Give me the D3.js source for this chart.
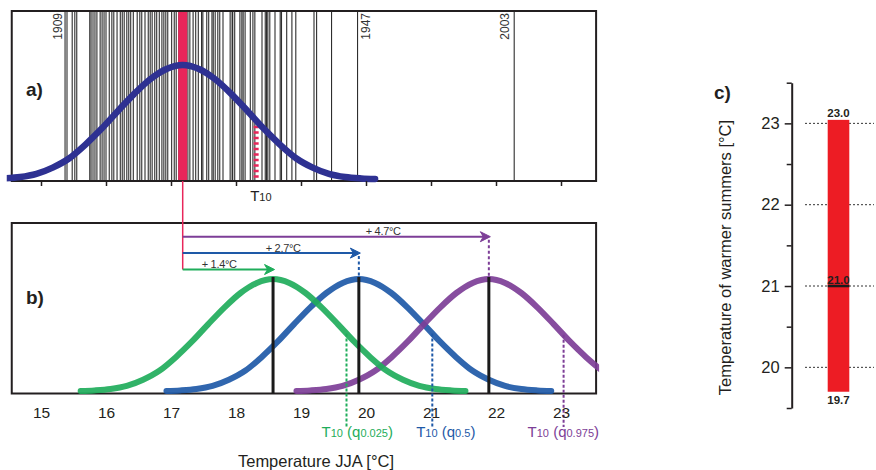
<!DOCTYPE html>
<html><head><meta charset="utf-8">
<script src="https://cdn.jsdelivr.net/npm/d3@7"></script>
<style>
body{margin:0;background:#fff;}
svg{display:block;font-family:"Liberation Sans",Arial,sans-serif;}
</style></head><body>
<svg id="chart" width="876" height="470"></svg>
<script>
// ---------------- data ----------------
const xTicks = [15, 16, 17, 18, 19, 20, 21, 22, 23];
// observed summer (JJA) temperatures, one vertical line each [°C]
const summerTemps = [15.37, 15.40, 15.48, 15.52, 15.55, 15.75, 15.77, 15.80, 15.83, 15.86,
  15.91, 15.94, 15.97, 16.00, 16.05, 16.09, 16.12, 16.17, 16.22, 16.25, 16.28, 16.32, 16.35,
  16.38, 16.42, 16.48, 16.52, 16.55, 16.60, 16.65, 16.68, 16.71, 16.75, 16.78, 16.82, 16.86,
  16.89, 16.92, 16.95, 17.01, 17.05, 17.08, 17.12, 17.18, 17.26, 17.29, 17.34, 17.38, 17.42,
  17.47, 17.49, 17.55, 17.58, 17.63, 17.65, 17.68, 17.72, 17.75, 17.80, 17.91, 17.94, 17.95,
  17.98, 18.06, 18.09, 18.11, 18.14, 18.22, 18.26, 18.29, 18.40, 18.45, 18.47, 18.49, 18.52,
  18.60, 18.68, 18.70, 18.78, 18.86, 18.92, 19.20, 19.24, 19.47, 19.87, 22.28];
const labelledYears = ["1909", "1947", "2003"];
const labelledTemps = [15.37, 19.87, 22.28];
// shape of the density curves: offset from the mean [°C] and relative height
const densityOffsets = [0, 0.25, 0.5, 0.75, 1.0, 1.25, 1.5, 1.75, 2.0, 2.25, 2.5, 2.75, 2.96];
const densityHeights = [1.0, 0.965, 0.875, 0.745, 0.595, 0.44, 0.30, 0.18, 0.10, 0.045, 0.017, 0.005, 0];
const baseMean = 17.18;
const baseT10 = 18.31;
const scenarioNames = ["0.025", "0.5", "0.975"];
const scenarioMeans = [18.57, 19.89, 21.89];
const scenarioShiftLabels = ["+ 1.4°C", "+ 2.7°C", "+ 4.7°C"];
const scenarioT10 = [19.70, 21.02, 23.04];
const warmTicks = [19.5, 20, 20.5, 21, 21.5, 22, 22.5, 23, 23.5];
const warmGrid = [20, 21, 22, 23];
const warmLow = 19.7, warmMid = 21.0, warmHigh = 23.0;

// ---------------- styles / layout ----------------
const C = {navy:"#2e3192", pink:"#e8265a", red:"#ed1c24", dark:"#231f20",
  scen:["#1fad5b", "#1e59a7", "#7d3e97"]};
const svg = d3.select("#chart");
const x = d3.scaleLinear().domain([15, 23]).range([41, 561]);
const xLo = 14.55, xHi = 23.54;
const A = {top:11, bottom:181}, B = {top:223, bottom:393.5};
const yA = d3.scaleLinear().domain([0, 1]).range([179, 65]);
const yB = d3.scaleLinear().domain([0, 1]).range([391, 279]);
const prof = d3.scaleLinear().domain(densityOffsets).range(densityHeights).clamp(true);
const profilePts = densityOffsets.slice(1).reverse().map((o, i) => [-o, densityHeights[densityHeights.length-1-i]])
  .concat(densityOffsets.map((o, i) => [o, densityHeights[i]]));
const densLine = (mean, ys) => d3.line().x(d => x(mean + d[0])).y(d => ys(d[1])).curve(d3.curveMonotoneX)(profilePts);

svg.append("defs").append("clipPath").attr("id", "clipX")
  .append("rect").attr("x", x(xLo) - 5).attr("y", 0).attr("width", x(xHi) - x(xLo) + 8).attr("height", 470);

// ---------------- panel a ----------------
const gA = svg.append("g");
gA.selectAll("line.yr").data(summerTemps).join("line").attr("class", "yr")
  .attr("x1", d => x(d)).attr("x2", d => x(d)).attr("y1", A.top).attr("y2", A.bottom)
  .attr("stroke", "#111").attr("stroke-width", 1.1).attr("stroke-opacity", 0.88);
gA.append("rect").attr("x", x(baseMean) - 4.5).attr("width", 9).attr("y", A.top).attr("height", A.bottom - A.top)
  .attr("fill", C.pink);
gA.append("line").attr("x1", x(baseT10)).attr("x2", x(baseT10))
  .attr("y1", yA(prof(baseT10 - baseMean))).attr("y2", A.bottom)
  .attr("stroke", C.pink).attr("stroke-width", 5).attr("stroke-dasharray", "2.5,3");
gA.append("rect").attr("x", x(xLo)).attr("y", A.top).attr("width", x(xHi) - x(xLo)).attr("height", A.bottom - A.top)
  .attr("fill", "none").attr("stroke", C.dark).attr("stroke-width", 2);
gA.append("path").attr("d", densLine(baseMean, yA)).attr("clip-path", "url(#clipX)")
  .attr("fill", "none").attr("stroke", C.navy).attr("stroke-width", 6.5).attr("stroke-linecap", "round");
const yearDx = [-3, 12, -5];
gA.selectAll("text.yl").data(labelledYears).join("text").attr("class", "yl")
  .attr("transform", (d, i) => `translate(${x(labelledTemps[i]) + yearDx[i]},13) rotate(-90)`)
  .attr("text-anchor", "end").attr("font-size", 12).attr("fill", "#333").text(d => d);
const axA = gA.append("g").attr("transform", `translate(0,${A.bottom})`)
  .call(d3.axisBottom(x).tickValues(xTicks).tickSize(5).tickFormat(""));
axA.select(".domain").remove();
axA.selectAll(".tick line").attr("stroke", C.dark).attr("stroke-width", 1.5);
const t10a = gA.append("text").attr("x", x(baseT10) - 6).attr("y", 200.5).attr("fill", C.dark);
t10a.append("tspan").attr("font-size", 15).text("T");
t10a.append("tspan").attr("font-size", 11).text("10");
gA.append("text").attr("x", 26).attr("y", 96).attr("font-size", 19).attr("font-weight", "bold").attr("fill", C.dark).text("a)");

// ---------------- panel b ----------------
const gB = svg.append("g");
const arrowY = scenarioMeans.map((d, i) => 269.5 - i * 16.4);
gB.append("rect").attr("x", x(xLo)).attr("y", B.top).attr("width", x(xHi) - x(xLo)).attr("height", B.bottom - B.top)
  .attr("fill", "none").attr("stroke", C.dark).attr("stroke-width", 2);
gB.append("line").attr("x1", x(baseMean)).attr("x2", x(baseMean)).attr("y1", A.bottom).attr("y2", arrowY[0])
  .attr("stroke", C.pink).attr("stroke-width", 1.5);
[1, 2, 0].forEach(i => {
  gB.append("path").attr("d", densLine(scenarioMeans[i], yB)).attr("clip-path", "url(#clipX)")
    .attr("fill", "none").attr("stroke", C.scen[i]).attr("stroke-width", 6).attr("stroke-opacity", 0.92)
    .attr("stroke-linecap", "round");
});
scenarioMeans.forEach((m, i) => {
  gB.append("line").attr("x1", x(m)).attr("x2", x(m)).attr("y1", yB(1) - 2).attr("y2", B.bottom)
    .attr("stroke", "#1a1a1a").attr("stroke-width", 3);
  if (yB(1) - arrowY[i] > 10) {
    gB.append("line").attr("x1", x(m)).attr("x2", x(m)).attr("y1", arrowY[i] + 3).attr("y2", yB(1) - 3)
      .attr("stroke", C.scen[i]).attr("stroke-width", 2).attr("stroke-dasharray", "3,2.5");
  }
  const t = scenarioT10[i];
  gB.append("line").attr("x1", x(t)).attr("x2", x(t)).attr("y1", yB(prof(t - m))).attr("y2", 427)
    .attr("stroke", C.scen[i]).attr("stroke-width", 2).attr("stroke-dasharray", "3,2");
  const tip = x(m) + 1.5, ay = arrowY[i];
  gB.append("line").attr("x1", x(baseMean)).attr("x2", tip - 5).attr("y1", ay).attr("y2", ay)
    .attr("stroke", C.scen[i]).attr("stroke-width", 2);
  gB.append("path").attr("d", `M${tip},${ay} L${tip - 10},${ay - 5} L${tip - 7},${ay} L${tip - 10},${ay + 5} Z`)
    .attr("fill", C.scen[i]).attr("stroke", C.scen[i]).attr("stroke-width", 1).attr("stroke-linejoin", "round");
});
const shiftLabelDx = [19, 83, 183];
gB.selectAll("text.sl").data(scenarioShiftLabels).join("text").attr("class", "sl")
  .attr("x", (d, i) => x(baseMean) + shiftLabelDx[i]).attr("y", (d, i) => arrowY[i] - 1.5)
  .attr("font-size", 11).attr("letter-spacing", -0.3).attr("fill", "#333").text(d => d);
gB.append("text").attr("x", 26).attr("y", 304).attr("font-size", 19).attr("font-weight", "bold").attr("fill", C.dark).text("b)");
const axB = gB.append("g").attr("transform", `translate(0,${B.bottom})`)
  .call(d3.axisBottom(x).tickValues(xTicks).tickSize(0).tickPadding(13).tickFormat(d3.format("d")));
axB.select(".domain").remove();
axB.selectAll(".tick text").attr("font-size", 15.5).attr("fill", C.dark).attr("font-family", "Liberation Sans, Arial, sans-serif");
const qDx = [10.7, 13.5, -0.3];
scenarioNames.forEach((q, i) => {
  const tx = gB.append("text").attr("x", x(scenarioT10[i]) + qDx[i]).attr("y", 437)
    .attr("text-anchor", "middle").attr("fill", C.scen[i]);
  tx.append("tspan").attr("font-size", 15).text("T");
  tx.append("tspan").attr("font-size", 11).text("10");
  tx.append("tspan").attr("font-size", 15).text(" (q");
  tx.append("tspan").attr("font-size", 11).text(q);
  tx.append("tspan").attr("font-size", 15).text(")");
});
gB.append("text").attr("x", 316).attr("y", 467).attr("text-anchor", "middle").attr("font-size", 16.5)
  .attr("fill", C.dark).text("Temperature JJA [°C]");

// ---------------- panel c ----------------
const gC = svg.append("g");
const yC = d3.scaleLinear().domain([19.5, 23.5]).range([408, 82.7]);
const axX = 791.7, barX0 = 827.7, barW = 21.6;
gC.selectAll("line.grid").data(warmGrid).join("line").attr("class", "grid")
  .attr("x1", 805).attr("x2", 874).attr("y1", d => yC(d)).attr("y2", d => yC(d))
  .attr("stroke", "#333").attr("stroke-width", 1).attr("stroke-dasharray", "2,2");
gC.append("rect").attr("x", barX0).attr("width", barW).attr("y", yC(warmHigh) - 3.5)
  .attr("height", yC(warmLow) - yC(warmHigh) + 3.5).attr("fill", C.red);
gC.append("line").attr("x1", barX0).attr("x2", barX0 + barW).attr("y1", yC(warmMid)).attr("y2", yC(warmMid))
  .attr("stroke", "#1a1a1a").attr("stroke-width", 2.5);
const fmt1 = d3.format(".1f");
[[warmHigh, yC(warmHigh) - 6], [warmMid, yC(warmMid) - 2.5], [warmLow, yC(warmLow) + 12.5]].forEach(([v, yy]) => {
  gC.append("text").attr("x", barX0 + barW / 2).attr("y", yy).attr("text-anchor", "middle")
    .attr("font-size", 11.5).attr("font-weight", "bold").attr("fill", C.dark).text(fmt1(v));
});
const axC = gC.append("g").attr("transform", `translate(${axX},0)`)
  .call(d3.axisLeft(yC).tickValues(warmTicks).tickSizeInner(7).tickSizeOuter(0).tickPadding(5)
    .tickFormat(d => Number.isInteger(d) && d >= 20 && d <= 23 ? d : ""));
axC.select(".domain").attr("stroke", C.dark).attr("stroke-width", 2);
axC.selectAll(".tick line").attr("stroke", C.dark).attr("stroke-width", 1.5)
  .attr("x2", d => Number.isInteger(d) ? -7 : -5);
axC.selectAll(".tick text").attr("font-size", 16.5).attr("fill", C.dark).attr("font-family", "Liberation Sans, Arial, sans-serif");
gC.append("text").attr("transform", "translate(731,257.5) rotate(-90)").attr("text-anchor", "middle")
  .attr("font-size", 16.5).attr("fill", C.dark).text("Temperature of warmer summers [°C]");
gC.append("text").attr("x", 714).attr("y", 99).attr("font-size", 19).attr("font-weight", "bold").attr("fill", C.dark).text("c)");
</script>
</body></html>
